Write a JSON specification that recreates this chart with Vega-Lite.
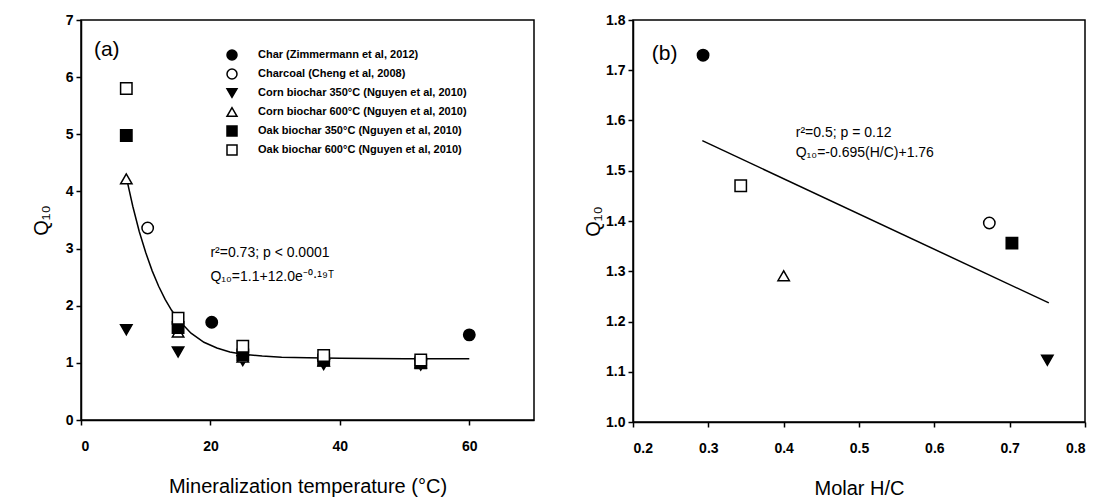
{
  "$schema": "https://vega.github.io/schema/vega-lite/v6.json",
  "padding": {"left": 30, "top": 12, "right": 2, "bottom": 2},
  "background": "white",
  "config": {
    "view": {"stroke": "black", "strokeWidth": 1.5},
    "axis": {"grid": false, "domainColor": "black", "domainWidth": 1.5, "tickColor": "black", "tickWidth": 1.5, "tickSize": 5, "labelFont": "Liberation Sans", "labelFontWeight": "bold", "labelFontSize": 14, "labelColor": "black", "titleFont": "Liberation Sans", "titleFontWeight": "normal", "titleFontSize": 20, "titleColor": "black", "labelPadding": 3},
    "axisX": {"labelPadding": 14, "titlePadding": 23},
    "text": {"font": "Liberation Sans", "color": "black"},
    "legend": {"orient": "none", "legendX": 145, "legendY": 29, "padding": 0, "labelFont": "Liberation Sans", "labelFontWeight": "bold", "labelFontSize": 11, "labelColor": "black", "symbolStrokeColor": "black", "symbolStrokeWidth": 1.5, "symbolSize": 100, "symbolOpacity": 1, "rowPadding": 3, "labelOffset": 20, "labelLimit": 400}
  },
  "datasets": {
    "curveA": [
      {"x": 7, "y": 4.25}, {"x": 8, "y": 3.74}, {"x": 9, "y": 3.30}, {"x": 10, "y": 2.93}, {"x": 11, "y": 2.61}, {"x": 12, "y": 2.34}, {"x": 13, "y": 2.11}, {"x": 14, "y": 1.92}, {"x": 15, "y": 1.76}, {"x": 17, "y": 1.52}, {"x": 19, "y": 1.36}, {"x": 21, "y": 1.26}, {"x": 23, "y": 1.19}, {"x": 25, "y": 1.15}, {"x": 28, "y": 1.12}, {"x": 31, "y": 1.10}, {"x": 35, "y": 1.09}, {"x": 40, "y": 1.08}, {"x": 50, "y": 1.07}, {"x": 60, "y": 1.07}
    ],
    "pointsA": [
      {"x": 7, "y": 1.58, "series": "Corn biochar 350°C (Nguyen et al, 2010)"},
      {"x": 15, "y": 1.19, "series": "Corn biochar 350°C (Nguyen et al, 2010)"},
      {"x": 25, "y": 1.04, "series": "Corn biochar 350°C (Nguyen et al, 2010)"},
      {"x": 37.5, "y": 0.97, "series": "Corn biochar 350°C (Nguyen et al, 2010)"},
      {"x": 52.5, "y": 0.96, "series": "Corn biochar 350°C (Nguyen et al, 2010)"},
      {"x": 7, "y": 4.22, "series": "Corn biochar 600°C (Nguyen et al, 2010)"},
      {"x": 15, "y": 1.54, "series": "Corn biochar 600°C (Nguyen et al, 2010)"},
      {"x": 25, "y": 1.10, "series": "Corn biochar 600°C (Nguyen et al, 2010)"},
      {"x": 37.5, "y": 1.03, "series": "Corn biochar 600°C (Nguyen et al, 2010)"},
      {"x": 52.5, "y": 1.0, "series": "Corn biochar 600°C (Nguyen et al, 2010)"},
      {"x": 7, "y": 4.98, "series": "Oak biochar 350°C (Nguyen et al, 2010)"},
      {"x": 15, "y": 1.62, "series": "Oak biochar 350°C (Nguyen et al, 2010)"},
      {"x": 25, "y": 1.14, "series": "Oak biochar 350°C (Nguyen et al, 2010)"},
      {"x": 37.5, "y": 1.05, "series": "Oak biochar 350°C (Nguyen et al, 2010)"},
      {"x": 52.5, "y": 1.0, "series": "Oak biochar 350°C (Nguyen et al, 2010)"},
      {"x": 7, "y": 5.8, "series": "Oak biochar 600°C (Nguyen et al, 2010)"},
      {"x": 15, "y": 1.78, "series": "Oak biochar 600°C (Nguyen et al, 2010)"},
      {"x": 25, "y": 1.29, "series": "Oak biochar 600°C (Nguyen et al, 2010)"},
      {"x": 37.5, "y": 1.13, "series": "Oak biochar 600°C (Nguyen et al, 2010)"},
      {"x": 52.5, "y": 1.05, "series": "Oak biochar 600°C (Nguyen et al, 2010)"},
      {"x": 10.3, "y": 3.36, "series": "Charcoal (Cheng et al, 2008)"},
      {"x": 20.2, "y": 1.71, "series": "Char (Zimmermann et al, 2012)"},
      {"x": 60, "y": 1.49, "series": "Char (Zimmermann et al, 2012)"}
    ],
    "tagA": [{"x": 2.0, "y": 6.47, "label": "(a)"}],
    "eqA": [
      {"x": 20, "y": 2.92, "label": "r²=0.73; p < 0.0001"},
      {"x": 20, "y": 2.51, "label": "Q₁₀=1.1+12.0e⁻⁰·¹⁹ᵀ"}
    ],
    "lineB": [{"x": 0.292, "y": 1.56}, {"x": 0.752, "y": 1.237}],
    "pointsB": [
      {"x": 0.293, "y": 1.73, "series": "Char (Zimmermann et al, 2012)"},
      {"x": 0.343, "y": 1.47, "series": "Oak biochar 600°C (Nguyen et al, 2010)"},
      {"x": 0.40, "y": 1.291, "series": "Corn biochar 600°C (Nguyen et al, 2010)"},
      {"x": 0.673, "y": 1.396, "series": "Charcoal (Cheng et al, 2008)"},
      {"x": 0.703, "y": 1.356, "series": "Oak biochar 350°C (Nguyen et al, 2010)"},
      {"x": 0.75, "y": 1.123, "series": "Corn biochar 350°C (Nguyen et al, 2010)"}
    ],
    "tagB": [{"x": 0.225, "y": 1.733, "label": "(b)"}],
    "eqB": [
      {"x": 0.416, "y": 1.575, "label": "r²=0.5; p = 0.12"},
      {"x": 0.416, "y": 1.535, "label": "Q₁₀=-0.695(H/C)+1.76"}
    ]
  },
  "spacing": 47,
  "hconcat": [
    {
      "width": 453,
      "height": 400,
      "encoding": {
        "x": {"field": "x", "type": "quantitative", "scale": {"domain": [0, 70], "nice": false}, "axis": {"values": [0, 20, 40, 60], "title": "Mineralization temperature (°C)"}},
        "y": {"field": "y", "type": "quantitative", "scale": {"domain": [0, 7], "nice": false}, "axis": {"values": [0, 1, 2, 3, 4, 5, 6, 7], "title": "Q₁₀", "titlePadding": 14}}
      },
      "layer": [
        {"data": {"name": "curveA"}, "mark": {"type": "line", "color": "black", "strokeWidth": 1.5}},
        {"data": {"name": "pointsA"}, "mark": {"type": "point", "filled": true, "stroke": "black", "strokeWidth": 1.5, "size": 130, "opacity": 1},
          "encoding": {
            "shape": {"field": "series", "type": "nominal", "title": null, "scale": {"domain": ["Char (Zimmermann et al, 2012)", "Charcoal (Cheng et al, 2008)", "Corn biochar 350°C (Nguyen et al, 2010)", "Corn biochar 600°C (Nguyen et al, 2010)", "Oak biochar 350°C (Nguyen et al, 2010)", "Oak biochar 600°C (Nguyen et al, 2010)"], "range": ["circle", "circle", "triangle-down", "triangle-up", "square", "square"]},
              "legend": {"encode": {"symbols": {"update": {"stroke": {"value": "black"}, "strokeWidth": {"value": 1.5}, "opacity": {"value": 1}}}}}},
            "fill": {"field": "series", "type": "nominal", "title": null, "scale": {"domain": ["Char (Zimmermann et al, 2012)", "Charcoal (Cheng et al, 2008)", "Corn biochar 350°C (Nguyen et al, 2010)", "Corn biochar 600°C (Nguyen et al, 2010)", "Oak biochar 350°C (Nguyen et al, 2010)", "Oak biochar 600°C (Nguyen et al, 2010)"], "range": ["black", "white", "black", "white", "black", "white"]},
              "legend": {"encode": {"symbols": {"update": {"stroke": {"value": "black"}, "strokeWidth": {"value": 1.5}, "opacity": {"value": 1}}}}}}
          }},
        {"data": {"name": "tagA"}, "mark": {"type": "text", "align": "left", "baseline": "middle", "fontSize": 21}, "encoding": {"text": {"field": "label"}}},
        {"data": {"name": "eqA"}, "mark": {"type": "text", "align": "left", "baseline": "middle", "fontSize": 14}, "encoding": {"text": {"field": "label"}}}
      ]
    },
    {
      "width": 452,
      "height": 402,
      "encoding": {
        "x": {"field": "x", "type": "quantitative", "scale": {"domain": [0.2, 0.8], "nice": false}, "axis": {"values": [0.2, 0.3, 0.4, 0.5, 0.6, 0.7, 0.8], "format": ".1f", "title": "Molar H/C"}},
        "y": {"field": "y", "type": "quantitative", "scale": {"domain": [1.0, 1.8], "nice": false}, "axis": {"values": [1.0, 1.1, 1.2, 1.3, 1.4, 1.5, 1.6, 1.7, 1.8], "format": ".1f", "title": "Q₁₀", "titlePadding": 2}}
      },
      "layer": [
        {"data": {"name": "lineB"}, "mark": {"type": "line", "color": "black", "strokeWidth": 1.5}},
        {"data": {"name": "pointsB"}, "mark": {"type": "point", "filled": true, "stroke": "black", "strokeWidth": 1.5, "size": 130, "opacity": 1},
          "encoding": {
            "shape": {"field": "series", "type": "nominal", "title": null},
            "fill": {"field": "series", "type": "nominal", "title": null}
          }},
        {"data": {"name": "tagB"}, "mark": {"type": "text", "align": "left", "baseline": "middle", "fontSize": 21}, "encoding": {"text": {"field": "label"}}},
        {"data": {"name": "eqB"}, "mark": {"type": "text", "align": "left", "baseline": "middle", "fontSize": 14}, "encoding": {"text": {"field": "label"}}}
      ]
    }
  ]
}
